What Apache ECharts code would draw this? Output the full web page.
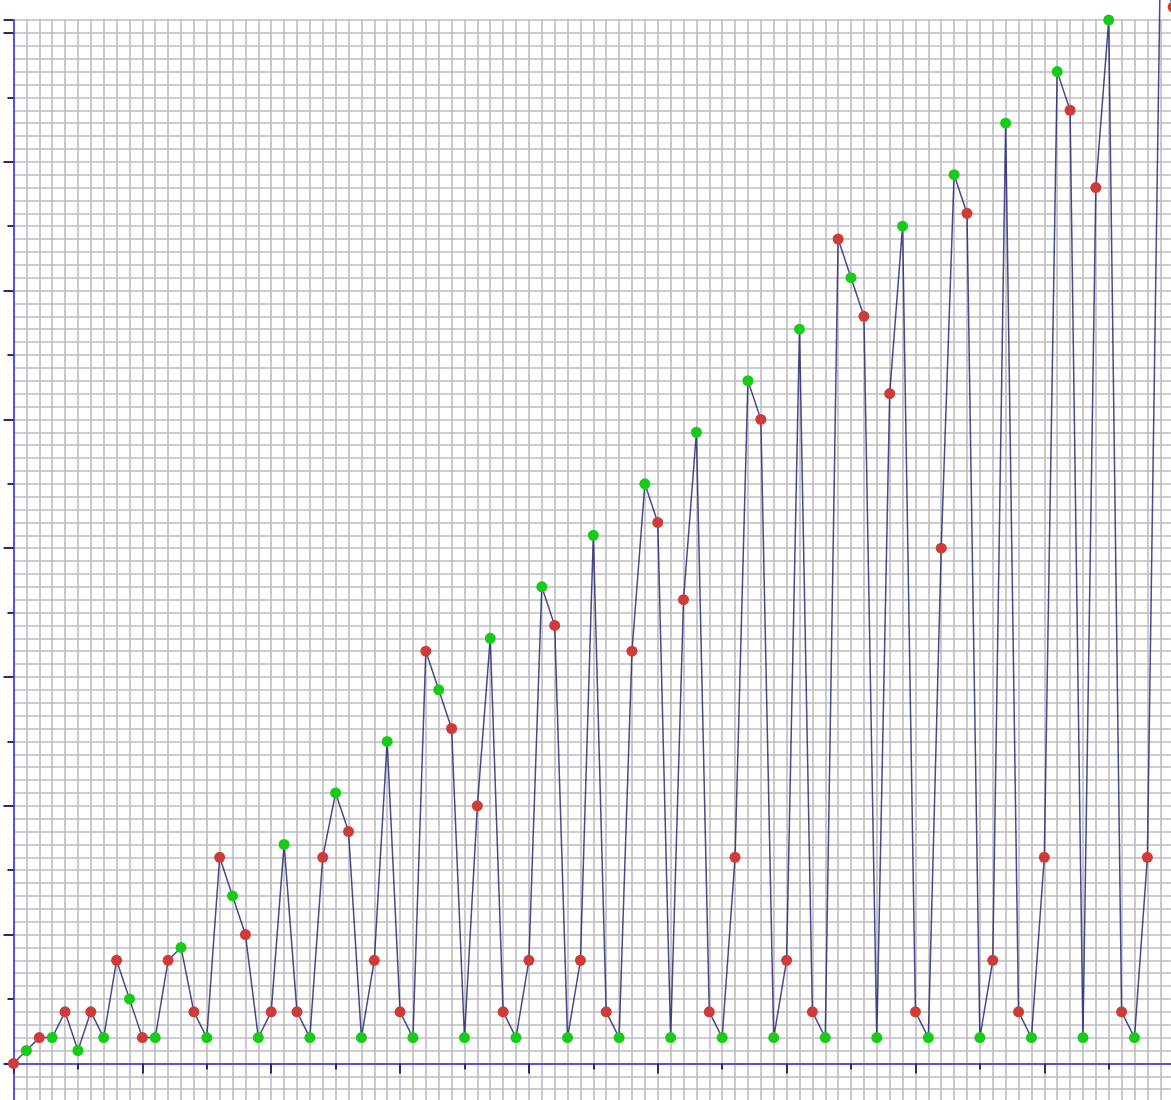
<!DOCTYPE html>
<html>
<head>
<meta charset="utf-8">
<script src="https://cdn.jsdelivr.net/npm/echarts@6/dist/echarts.min.js"></script>
<style>
html,body{margin:0;padding:0;background:#fff;}
#chart{width:1171px;height:1100px;}
</style>
</head>
<body>
<div id="chart"></div>
<script>
// x positions (index) and values
const indices = Array.from({length: 91}, (_, i) => i);
const values = [
  0,1,2,2, 4,1,4,2, 8,5,2,2, 8,9,4,2,
  16,13,10,2, 4,17,4,2, 16,21,18,2, 8,25,4,2,
  32,29,26,2, 20,33,4,2, 8,37,34,2, 8,41,4,2,
  32,45,42,2, 36,49,4,2, 16,53,50,2, 8,57,4,2,
  64,61,58,2, 52,65,4,2, 40,69,66,2, 8,73,4,2,
  16,77,74,2, 68,81,4,2, 16,85,82
];
const evenColor = '#cf3b37';
const oddColor = '#16cc16';

const X_MIN = 0, X_MAX = 90, Y_MIN = -10, Y_MAX = 81;
const unitX = 12.885, unitY = 12.88;
const gridLeft = 13.5, gridTop = 20.1;

const chart = echarts.init(document.getElementById('chart'), null, {renderer: 'canvas'});

const axisLineStyle = {color: '#5555e0', width: 2};
const tickStyle = {color: '#2c2c6c', width: 2};
const gridLineStyle = {color: '#bcbcc2', width: 1.6};

chart.setOption({
  animation: false,
  backgroundColor: '#ffffff',
  grid: {
    left: gridLeft,
    top: gridTop,
    width: (X_MAX - X_MIN) * unitX,
    height: (Y_MAX - Y_MIN) * unitY,
    containLabel: false,
    outerBoundsMode: 'none'
  },
  xAxis: [
    {
      type: 'value', min: X_MIN, max: X_MAX, interval: 1,
      position: 'top',
      axisLine: {show: false}, axisTick: {show: false}, axisLabel: {show: false},
      splitLine: {show: true, lineStyle: gridLineStyle}, z: 0
    },
    {
      type: 'value', min: X_MIN, max: X_MAX, interval: 10,
      position: 'bottom',
      axisLine: {show: true, onZero: true, lineStyle: axisLineStyle},
      axisTick: {show: true, length: 10, lineStyle: tickStyle},
      minorTick: {show: true, splitNumber: 2, length: 6, lineStyle: tickStyle},
      axisLabel: {show: false},
      splitLine: {show: false}, z: 2
    }
  ],
  yAxis: [
    {
      type: 'value', min: Y_MIN, max: Y_MAX, interval: 10,
      position: 'left',
      axisLine: {show: true, onZero: true, lineStyle: axisLineStyle},
      axisTick: {show: true, length: 10, lineStyle: tickStyle},
      minorTick: {show: true, splitNumber: 2, length: 6, lineStyle: tickStyle},
      axisLabel: {show: false},
      splitLine: {show: false}, z: 2
    },
    {
      type: 'value', min: Y_MIN, max: Y_MAX, interval: 1,
      position: 'right',
      axisLine: {show: false}, axisTick: {show: false}, axisLabel: {show: false},
      splitLine: {show: true, lineStyle: gridLineStyle}, z: 0
    }
  ],
  series: [{
    type: 'line',
    xAxisIndex: 1,
    yAxisIndex: 0,
    data: indices.map((x, i) => [x, values[i]]),
    clip: false,
    symbol: 'circle',
    symbolSize: 11,
    lineStyle: {color: 'rgba(30,30,110,0.8)', width: 1.5},
    itemStyle: {
      color: p => (p.dataIndex % 2 === 0 ? evenColor : oddColor)
    },
    z: 5
  }]
});
</script>
</body>
</html>
